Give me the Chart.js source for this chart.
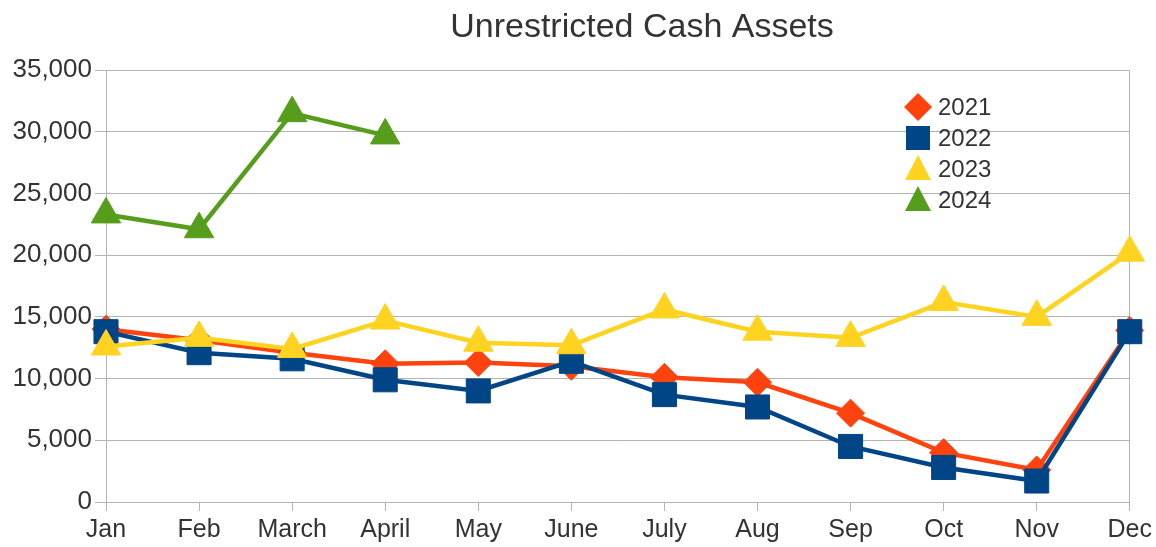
<!DOCTYPE html>
<html>
<head>
<meta charset="utf-8">
<script src="https://cdn.jsdelivr.net/npm/chart.js@4/dist/chart.umd.min.js"></script>
<style>
  html, body { margin: 0; padding: 0; background: #fff; }
  #wrap { width: 1156px; height: 547px; }
</style>
</head>
<body>
<div id="wrap"><canvas id="chart" width="1156" height="547"></canvas></div>
<script>
// Unrestricted cash assets by month.
const MONTHS = ['Jan', 'Feb', 'March', 'April', 'May', 'June', 'July', 'Aug', 'Sep', 'Oct', 'Nov', 'Dec'];
const Y2021 = [14000, 13100, 12100, 11200, 11300, 11000, 10100, 9700, 7200, 4000, 2600, 13900];
const Y2022 = [13800, 12100, 11600, 9900, 9000, 11400, 8700, 7700, 4500, 2800, 1700, 13800];
const Y2023 = [12600, 13300, 12400, 14700, 12900, 12700, 15600, 13800, 13300, 16200, 15000, 20200];
const Y2024 = [23300, 22100, 31500, 29700, null, null, null, null, null, null, null, null];
const Y_TICKS = [0, 5000, 10000, 15000, 20000, 25000, 30000, 35000];

const FONT = '"Liberation Sans", Arial, sans-serif';
const GRID = '#b3b3b3';
const TEXT = '#333333';

function series(label, data, color, style, radius, order) {
  return {
    label, data, order,
    borderColor: color, backgroundColor: color,
    borderWidth: 4.5, tension: 0, spanGaps: false,
    pointStyle: style, pointRadius: radius, pointHoverRadius: radius,
    pointBackgroundColor: color, pointBorderColor: color, pointBorderWidth: 1,
  };
}

// title and legend are drawn by hand so they land where the reference has them
const decor = {
  id: 'decor',
  afterDraw(chart) {
    const ctx = chart.ctx;
    ctx.save();
    ctx.fillStyle = TEXT;
    ctx.font = `34px ${FONT}`;
    ctx.textAlign = 'center';
    ctx.textBaseline = 'middle';
    ctx.fillText('Unrestricted Cash Assets', 642, 28);

    ctx.font = `24px ${FONT}`;
    ctx.textAlign = 'left';
    chart.data.datasets.forEach((ds, i) => {
      const x = 918, y = 107 + i * 31;
      ctx.fillStyle = ds.borderColor;
      ctx.beginPath();
      if (ds.pointStyle === 'rectRot') {
        ctx.moveTo(x, y - 14); ctx.lineTo(x + 14, y); ctx.lineTo(x, y + 14); ctx.lineTo(x - 14, y);
      } else if (ds.pointStyle === 'rect') {
        ctx.rect(x - 12, y - 12, 24, 24);
      } else {
        ctx.moveTo(x, y - 14); ctx.lineTo(x + 13, y + 11); ctx.lineTo(x - 13, y + 11);
      }
      ctx.closePath();
      ctx.fill();
      ctx.fillStyle = TEXT;
      ctx.fillText(ds.label, 938, y + 1);
    });
    ctx.restore();
  }
};

new Chart(document.getElementById('chart').getContext('2d'), {
  type: 'line',
  data: {
    labels: MONTHS,
    datasets: [
      series('2021', Y2021, '#ff420e', 'rectRot', 14, 3),
      series('2022', Y2022, '#004586', 'rect', 17, 2),
      series('2023', Y2023, '#ffd320', 'triangle', 17, 1),
      series('2024', Y2024, '#579d1c', 'triangle', 17, 0),
    ],
  },
  options: {
    responsive: false, animation: false,
    layout: { padding: { top: 70, right: 25, left: 0, bottom: 0 } },
    plugins: { legend: { display: false }, title: { display: false }, tooltip: { enabled: false } },
    scales: {
      x: {
        offset: false,
        afterFit: s => { s.height = 45; },
        border: { color: GRID, width: 1 },
        grid: {
          color: c => c.index === MONTHS.length - 1 ? GRID : 'rgba(0,0,0,0)',
          tickColor: GRID, tickLength: 9, lineWidth: 1,
        },
        ticks: { color: TEXT, font: { family: FONT, size: 25 }, padding: 4, maxRotation: 0, autoSkip: false },
      },
      y: {
        min: 0, max: 35000,
        afterFit: s => { s.width = 106; },
        afterBuildTicks: s => { s.ticks = Y_TICKS.map(v => ({ value: v })); },
        border: { color: GRID, width: 1 },
        grid: { color: GRID, tickColor: GRID, tickLength: 11, lineWidth: 1 },
        ticks: {
          color: TEXT, font: { family: FONT, size: 26 }, padding: 3,
          callback: v => v.toLocaleString('en-US'),
        },
      },
    },
  },
  plugins: [decor],
});
</script>
</body>
</html>
